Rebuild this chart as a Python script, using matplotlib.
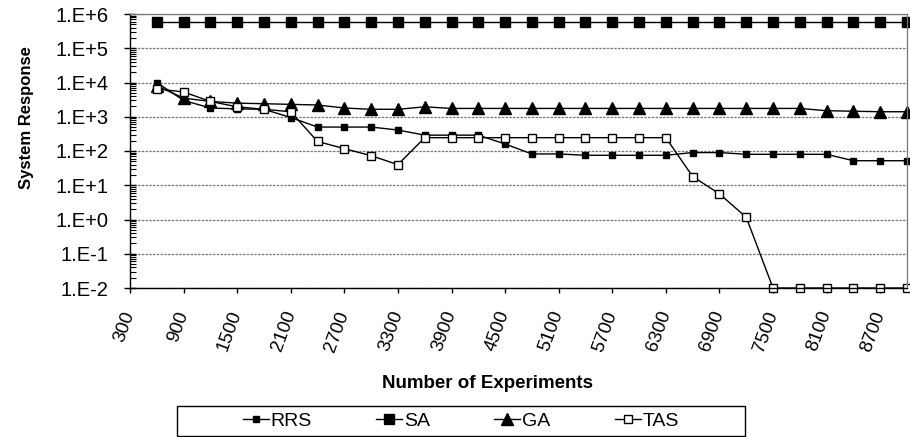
import numpy as np
import matplotlib
matplotlib.use("Agg")
import matplotlib.pyplot as plt
from matplotlib.patches import Rectangle
from matplotlib.ticker import FixedLocator, FuncFormatter, LogLocator, NullFormatter

plt.rcParams['font.family'] = ['Liberation Sans', 'DejaVu Sans']

# --- data ---
experiments = [600, 900, 1200, 1500, 1800, 2100, 2400, 2700, 3000, 3300,
               3600, 3900, 4200, 4500, 4800, 5100, 5400, 5700, 6000, 6300,
               6600, 6900, 7200, 7500, 7800, 8100, 8400, 8700, 9000]

rrs = [1.0e4, 3.0e3, 1.8e3, 1.7e3, 1.65e3, 950, 500, 500, 500, 410,
       290, 290, 290, 160, 82, 82, 75, 75, 75, 75,
       90, 90, 80, 80, 80, 80, 52, 52, 52]

sa = [5.8e5] * 29

ga = [8.0e3, 3.5e3, 2.8e3, 2.5e3, 2.4e3, 2.3e3, 2.2e3, 1.8e3, 1.65e3, 1.65e3,
      1.95e3, 1.75e3, 1.75e3, 1.75e3, 1.75e3, 1.75e3, 1.75e3, 1.75e3, 1.75e3, 1.75e3,
      1.75e3, 1.75e3, 1.75e3, 1.75e3, 1.75e3, 1.5e3, 1.45e3, 1.4e3, 1.4e3]

tas = [6.5e3, 5.3e3, 2.8e3, 1.95e3, 1.65e3, 1.4e3, 190, 117, 73, 40,
       245, 245, 245, 245, 245, 245, 245, 245, 245, 245,
       18, 5.6, 1.16, 0.01, 0.01, 0.01, 0.01, 0.01, 0.01]

xtick_values = [300, 900, 1500, 2100, 2700, 3300, 3900, 4500,
                5100, 5700, 6300, 6900, 7500, 8100, 8700]

W, H = 910, 437
fig = plt.figure(figsize=(W / 100, H / 100), dpi=100)
ax = fig.add_axes([130 / W, 1 - 288 / H, (907 - 130) / W, 274 / H])

common = dict(color='black', lw=1.0, clip_on=False)
ax.plot(experiments, rrs, marker='s', ms=5, mfc='black', mec='black', label='RRS', **common)
ax.plot(experiments, sa, marker='s', ms=7.5, mfc='black', mec='black', label='SA', **common)
ax.plot(experiments, ga, marker='^', ms=8, mfc='black', mec='black', label='GA', **common)
ax.plot(experiments, tas, marker='s', ms=5.5, mfc='white', mec='black', mew=1.0, label='TAS', **common)

ax.set_yscale('log')
ax.set_ylim(1e-2, 1e6)
ax.set_xlim(300, 9000)

ax.yaxis.set_major_locator(LogLocator(base=10, numticks=20))
ax.yaxis.set_major_formatter(FuncFormatter(lambda v, p: f"1.E{int(round(np.log10(v))):+d}"))
ax.yaxis.set_minor_locator(LogLocator(base=10, subs=np.arange(2, 10), numticks=20))
ax.yaxis.set_minor_formatter(NullFormatter())

ax.xaxis.set_major_locator(FixedLocator(xtick_values))
ax.set_xticklabels([str(v) for v in xtick_values], rotation=70, ha='right',
                   va='center', rotation_mode='anchor')

ax.tick_params(axis='y', which='major', direction='inout', length=8.5, width=1, labelsize=14.5, pad=11)
ax.tick_params(axis='y', which='minor', direction='in', length=4, width=0.8)
ax.tick_params(axis='x', which='major', direction='out', length=3.6, width=1, labelsize=13.5, pad=13.4)

ax.grid(True, axis='y', which='major', color='#777777', lw=0.9, ls=(0, (2, 1)))
ax.set_axisbelow(True)

for side in ['top', 'right']:
    ax.spines[side].set_color('#777777')
    ax.spines[side].set_linestyle((0, (2, 1)))
    ax.spines[side].set_linewidth(0.9)
for side in ['left', 'bottom']:
    ax.spines[side].set_color('black')
    ax.spines[side].set_linewidth(1.0)

fig.text(27 / W, 1 - 118 / H, 'System Response', rotation=90, ha='center', va='center',
         fontsize=12, fontweight='bold')
fig.text(487 / W, 1 - 384 / H, 'Number of Experiments', ha='center', va='center',
         fontsize=13.5, fontweight='bold')

# legend box drawn separately so the entries can sit centred inside a wide frame
fig.patches.append(Rectangle((177 / W, 1 - 436 / H), (745 - 177) / W, 30 / H,
                             transform=fig.transFigure, fill=False,
                             edgecolor='black', lw=1.0))
fig.legend(loc='center', ncol=4, bbox_to_anchor=(461 / W, 1 - 421 / H),
           bbox_transform=fig.transFigure, fontsize=14, frameon=False,
           handlelength=1.34, handletextpad=0.1, columnspacing=3.3,
           borderpad=0, borderaxespad=0)

fig.savefig('out.png', dpi=100)
